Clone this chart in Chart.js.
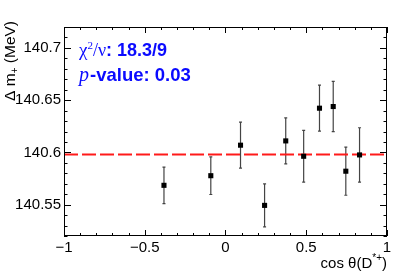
<!DOCTYPE html>
<html>
<head>
<meta charset="utf-8">
<script src="https://cdn.jsdelivr.net/npm/chart.js@4"></script>
<style>
  html, body { margin: 0; padding: 0; background: #fff; }
  #wrap { width: 399px; height: 272px; }
</style>
</head>
<body>
<div id="wrap"><canvas id="massChart"></canvas></div>
<script>
// measured points
const cosTheta = [-0.381, -0.091, 0.093, 0.242, 0.373, 0.484, 0.582, 0.667, 0.745, 0.830];
const deltaM = [140.5685, 140.5777, 140.6069, 140.5493, 140.6110, 140.5963, 140.6423, 140.6439, 140.5820, 140.5976];
const deltaMErr = [0.0175, 0.018, 0.022, 0.0205, 0.022, 0.0248, 0.022, 0.024, 0.023, 0.026];
const fitValue = 140.598;
const chi2Text = '18.3/9';
const pValueText = '0.03';

const xTicks = [-1, -0.5, 0, 0.5, 1];
const yTicks = [140.55, 140.6, 140.65, 140.7];
const xMinorStep = 0.1;
const yMinorStep = 0.01;

const SANS = '"Liberation Sans", Arial, Helvetica, sans-serif';
const SERIF = '"Liberation Serif", "DejaVu Serif", serif';
const BLUE = '#0a0aff';

const fmtMinus = v => String(v).replace('-', '\u2212');

// error bars, drawn under the markers
const errorBars = {
  id: 'errorBars',
  beforeDatasetsDraw(chart) {
    const { ctx, scales: { x, y } } = chart;
    ctx.save();
    ctx.strokeStyle = '#444';
    ctx.lineWidth = 1.2;
    cosTheta.forEach((c, i) => {
      const px = x.getPixelForValue(c);
      const top = y.getPixelForValue(deltaM[i] + deltaMErr[i]);
      const bot = y.getPixelForValue(deltaM[i] - deltaMErr[i]);
      ctx.beginPath();
      ctx.moveTo(px, top); ctx.lineTo(px, bot);
      ctx.moveTo(px - 1.5, top); ctx.lineTo(px + 1.5, top);
      ctx.moveTo(px - 1.5, bot); ctx.lineTo(px + 1.5, bot);
      ctx.stroke();
    });
    ctx.restore();
  }
};

// ROOT style frame with inward ticks, axis titles and fit text
const frameAndText = {
  id: 'frameAndText',
  afterDraw(chart) {
    const { ctx, chartArea: a, scales: { x, y } } = chart;
    ctx.save();
    ctx.strokeStyle = '#000';
    ctx.lineWidth = 1;
    ctx.strokeRect(a.left + 0.5, a.top + 0.5, a.right - a.left - 1, a.bottom - a.top - 1);

    ctx.beginPath();
    for (let v = -1; v <= 1.0001; v += xMinorStep) {
      const px = Math.round(x.getPixelForValue(v)) + 0.5;
      const major = xTicks.some(t => Math.abs(t - v) < 1e-6);
      const len = major ? 6 : 3;
      ctx.moveTo(px, a.bottom); ctx.lineTo(px, a.bottom - len);
      ctx.moveTo(px, a.top); ctx.lineTo(px, a.top + len);
    }
    for (let v = 140.52; v <= 140.7201; v += yMinorStep) {
      const py = Math.round(y.getPixelForValue(v)) + 0.5;
      const major = yTicks.some(t => Math.abs(t - v) < 1e-6);
      const len = major ? 7 : 3.5;
      ctx.moveTo(a.left, py); ctx.lineTo(a.left + len, py);
      ctx.moveTo(a.right, py); ctx.lineTo(a.right - len, py);
    }
    ctx.stroke();

    // x title: cos θ(D*+)
    ctx.fillStyle = '#000';
    ctx.textBaseline = 'alphabetic';
    ctx.font = '15px ' + SANS;
    const supFont = '10px ' + SANS;
    const p1 = 'cos \u03b8(D', p2 = '*+', p3 = ')';
    let w1 = ctx.measureText(p1).width, w3 = ctx.measureText(p3).width;
    ctx.font = supFont;
    let w2 = ctx.measureText(p2).width;
    let sx = 387 - (w1 + w2 + w3);
    const by = 268;
    ctx.font = '15px ' + SANS;
    ctx.fillText(p1, sx, by);
    ctx.font = supFont;
    ctx.fillText(p2, sx + w1, by - 7);
    ctx.font = '15px ' + SANS;
    ctx.fillText(p3, sx + w1 + w2, by);

    // y title: Δ m+ (MeV), rotated
    ctx.translate(15, 21);
    ctx.rotate(-Math.PI / 2);
    const q1 = '\u0394 m', q2 = '+', q3 = ' (MeV)';
    ctx.font = '15.5px ' + SANS;
    const v1 = ctx.measureText(q1).width, v3 = ctx.measureText(q3).width;
    ctx.font = supFont;
    const v2 = ctx.measureText(q2).width;
    let tx = -(v1 + v2 + v3);
    ctx.font = '15.5px ' + SANS;
    ctx.fillText(q1, tx, 0);
    ctx.font = supFont;
    ctx.fillText(q2, tx + v1, 3);
    ctx.font = '15.5px ' + SANS;
    ctx.fillText(q3, tx + v1 + v2, 0);
    ctx.restore();

    // fit quality text
    ctx.save();
    ctx.fillStyle = BLUE;
    let cx = 79;
    ctx.font = '19px ' + SERIF;
    ctx.fillText('\u03c7', cx, 56); cx += ctx.measureText('\u03c7').width;
    ctx.font = '11px ' + SERIF;
    ctx.fillText('2', cx, 49); cx += ctx.measureText('2').width;
    ctx.font = '18px ' + SERIF;
    ctx.fillText('/\u03bd', cx, 56); cx += ctx.measureText('/\u03bd').width;
    ctx.font = 'bold 18px ' + SANS;
    ctx.fillText(': ' + chi2Text, cx, 56);

    cx = 79;
    ctx.font = 'italic 20px ' + SERIF;
    ctx.fillText('p', cx, 81); cx += ctx.measureText('p').width + 1;
    ctx.font = 'bold 18.5px ' + SANS;
    ctx.fillText('-value: ' + pValueText, cx, 81);
    ctx.restore();
  }
};

new Chart(document.getElementById('massChart'), {
  type: 'scatter',
  data: {
    datasets: [
      {
        label: 'data',
        data: cosTheta.map((c, i) => ({ x: c, y: deltaM[i] })),
        pointStyle: 'rect',
        pointRadius: 3.6,
        backgroundColor: '#000',
        borderWidth: 0
      },
      {
        type: 'line',
        label: 'fit',
        data: [{ x: -1, y: fitValue }, { x: 1, y: fitValue }],
        borderColor: '#ff1a1a',
        borderWidth: 1.8,
        borderDash: [14, 4],
        pointRadius: 0,
        fill: false
      }
    ]
  },
  options: {
    responsive: true,
    maintainAspectRatio: false,
    animation: false,
    events: [],
    layout: { padding: { top: 27, right: 12, left: 0, bottom: 0 } },
    plugins: { legend: { display: false }, tooltip: { enabled: false } },
    scales: {
      x: {
        type: 'linear',
        min: -1,
        max: 1,
        afterBuildTicks: s => { s.ticks = xTicks.map(v => ({ value: v })); },
        afterFit: s => { s.height = 36; },
        grid: { display: false, drawTicks: false },
        border: { display: false },
        ticks: {
          padding: 3,
          maxRotation: 0,
          color: '#000',
          font: { family: SANS, size: 15 },
          callback: v => fmtMinus(v)
        }
      },
      y: {
        type: 'linear',
        min: 140.52,
        max: 140.72,
        afterBuildTicks: s => { s.ticks = yTicks.map(v => ({ value: v })); },
        afterFit: s => { s.width = 64; },
        grid: { display: false, drawTicks: false },
        border: { display: false },
        ticks: {
          padding: 3,
          color: '#000',
          font: { family: SANS, size: 15 },
          callback: v => String(v)
        }
      }
    }
  },
  plugins: [errorBars, frameAndText]
});
</script>
</body>
</html>
